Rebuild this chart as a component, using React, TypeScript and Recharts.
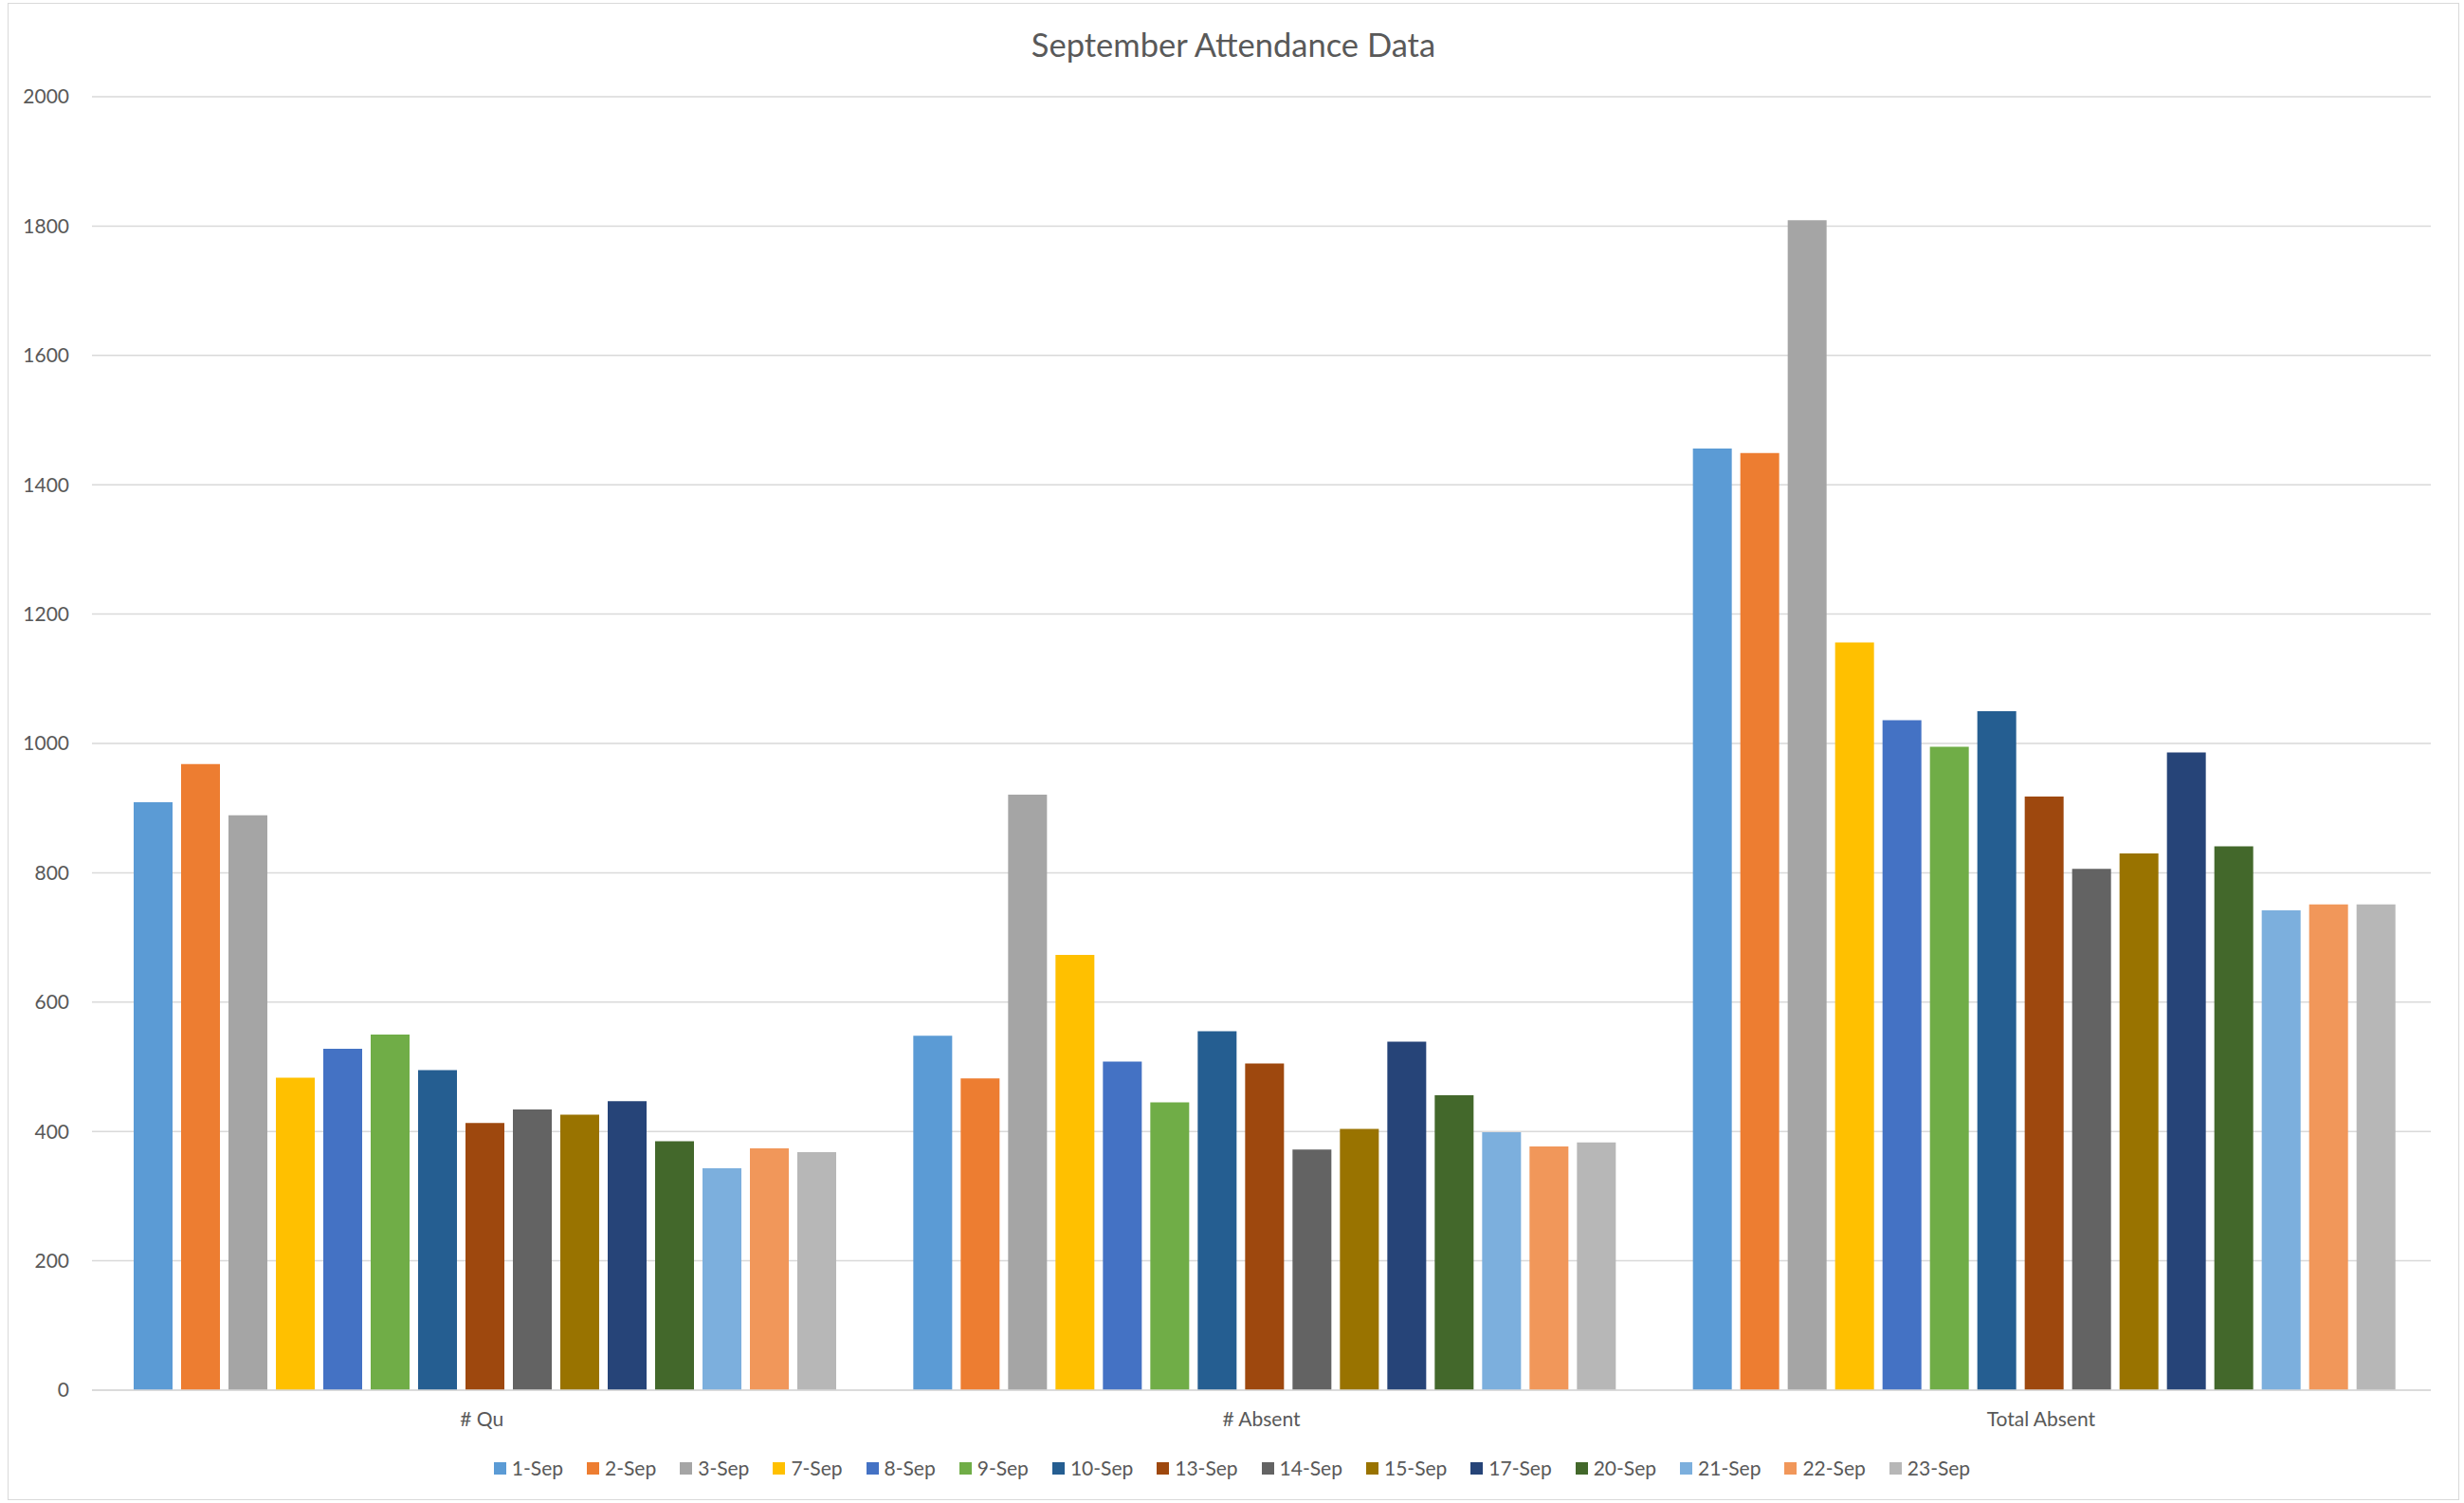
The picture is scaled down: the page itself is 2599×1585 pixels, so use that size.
import React from 'react';
import { BarChart, Bar, XAxis, YAxis, CartesianGrid, Legend } from 'recharts';

const categories = ['# Qu', '# Absent', 'Total Absent'];

const dates = [
  '1-Sep', '2-Sep', '3-Sep', '7-Sep', '8-Sep', '9-Sep', '10-Sep', '13-Sep',
  '14-Sep', '15-Sep', '17-Sep', '20-Sep', '21-Sep', '22-Sep', '23-Sep',
];

const quValues = [909, 968, 889, 483, 528, 550, 495, 413, 434, 426, 447, 385, 343, 374, 368];
const absentValues = [548, 482, 921, 673, 508, 445, 555, 505, 372, 404, 539, 456, 399, 377, 383];
const totalAbsentValues = [1456, 1449, 1809, 1156, 1036, 995, 1050, 918, 806, 830, 986, 841, 742, 751, 751];

const colors = [
  '#5B9BD5', '#ED7D31', '#A5A5A5', '#FFC000', '#4472C4', '#70AD47', '#255E91', '#9E480E',
  '#636363', '#997300', '#264478', '#43682B', '#7CAFDD', '#F1975A', '#B7B7B7',
];

const yTicks = [0, 200, 400, 600, 800, 1000, 1200, 1400, 1600, 1800, 2000];

const valuesByCategory = [quValues, absentValues, totalAbsentValues];

const rows = categories.map((name, ci) => {
  const row: Record<string, string | number> = { name };
  dates.forEach((d, di) => {
    row[d] = valuesByCategory[ci][di];
  });
  return row;
});

const FONT = 'Lato, "Open Sans", sans-serif';
const TEXT = '#595959';

// legend in series order (recharts sorts payload by name otherwise)
function LegendContent() {
  return (
    <div
      style={{
        display: 'flex',
        justifyContent: 'center',
        alignItems: 'center',
        fontFamily: FONT,
        fontSize: 21,
        color: TEXT,
        lineHeight: '26px',
      }}
    >
      {dates.map((d, i) => (
        <span
          key={d}
          style={{ display: 'flex', alignItems: 'center', marginRight: i < dates.length - 1 ? 25 : 0 }}
        >
          <span style={{ width: 13, height: 13, background: colors[i], marginRight: 6, display: 'inline-block' }} />
          {d}
        </span>
      ))}
    </div>
  );
}

export default function App() {
  return (
    <div style={{ position: 'absolute', left: 0, top: 0, width: 2599, height: 1585, background: '#fff' }}>
      <div
        style={{
          position: 'absolute',
          left: 8,
          top: 3,
          width: 2586,
          height: 1579,
          border: '1px solid #D9D9D9',
          boxSizing: 'border-box',
        }}
      />
      <div
        style={{
          position: 'absolute',
          left: 0,
          width: 2602,
          top: 25,
          textAlign: 'center',
          fontFamily: FONT,
          fontSize: 34.5,
          color: TEXT,
          lineHeight: '44px',
        }}
      >
        September Attendance Data
      </div>
      <BarChart
        width={2599}
        height={1585}
        data={rows}
        margin={{ top: 102, right: 35, left: 0, bottom: 0 }}
        barCategoryGap={44}
        barGap={9}
        style={{ position: 'absolute', left: 0, top: 0 }}
      >
        <CartesianGrid vertical={false} stroke="#D9D9D9" strokeWidth={1.5} />
        <XAxis
          dataKey="name"
          height={119}
          tickSize={0}
          tickMargin={23}
          axisLine={{ stroke: '#D9D9D9', strokeWidth: 1.5 }}
          tickLine={false}
          tick={{ fill: TEXT, fontSize: 21, fontFamily: FONT }}
        />
        <YAxis
          width={97}
          domain={[0, 2000]}
          ticks={yTicks}
          tickSize={0}
          tickMargin={24}
          axisLine={false}
          tickLine={false}
          tick={{ fill: TEXT, fontSize: 21, fontFamily: FONT }}
        />
        <Legend
          verticalAlign="middle"
          layout="horizontal"
          content={<LegendContent />}
          wrapperStyle={{ top: 1535, left: 0, width: 2599 }}
        />
        {dates.map((d, i) => (
          <Bar key={d} dataKey={d} fill={colors[i]} isAnimationActive={false} />
        ))}
      </BarChart>
    </div>
  );
}
